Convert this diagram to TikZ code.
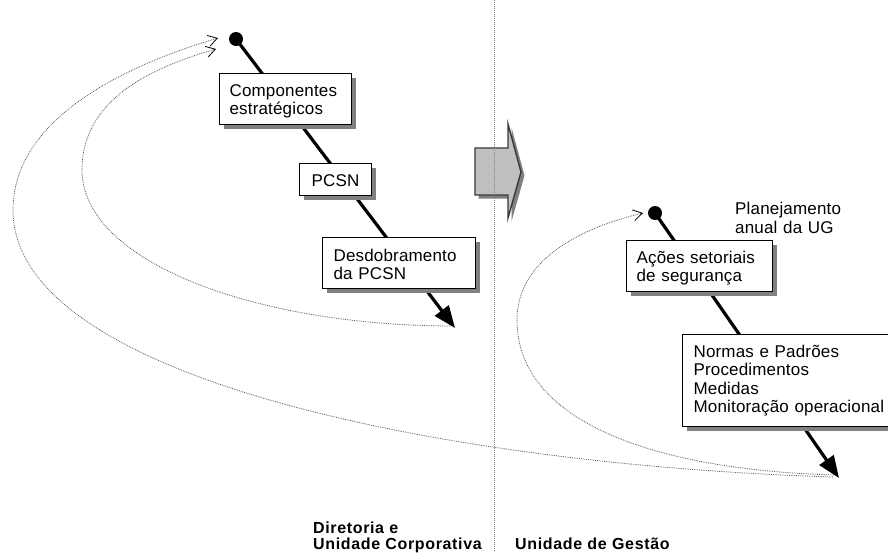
\documentclass[tikz,border=0pt]{standalone}
\usepackage{fontspec}
\setmainfont{Liberation Sans}
\usetikzlibrary{arrows.meta,shadows}
\definecolor{shadowgray}{HTML}{808080}
\definecolor{arrowfill}{HTML}{C0C0C0}
\definecolor{arrowedge}{HTML}{383838}
\definecolor{dotgray}{HTML}{5A5A5A}
\begin{document}
\begin{tikzpicture}[x=1pt,y=-1pt,
  txt/.style={font=\fontsize{17}{18.3}\selectfont\addfontfeature{LetterSpace=1}},
  box/.style={txt, draw=black, line width=1.2pt, fill=white,
    drop shadow={shadow xshift=4pt, shadow yshift=-4pt, fill=shadowgray, opacity=1},
    anchor=north west, inner ysep=0pt, align=left},
  lbl/.style={font=\fontsize{16}{16}\selectfont\bfseries\addfontfeature{LetterSpace=4},
    anchor=base west, inner sep=0pt, align=left},
  procline/.style={line width=3.2pt, black, -{Triangle[length=22pt,width=17pt]}},
  dotnode/.style={circle, fill=black, inner sep=0pt, minimum size=14pt},
  fb/.style={densely dotted, dotgray, line width=0.8pt,
    -{Straight Barb[length=9pt,width=11pt,line width=0.8pt,black]}},
  bigarrow/.style={fill=arrowfill, draw=arrowedge, line width=1.4pt,
    drop shadow={shadow xshift=3.5pt, shadow yshift=-3.5pt, fill=shadowgray, opacity=1}},
  divider/.style={densely dotted, gray, line width=1pt}]
\clip (0,0) rectangle (888,552);
\fill[white] (0,0) rectangle (888,552);

% block arrow
\draw[bigarrow] (475,148) -- (508,148) -- (508,124) -- (521,172) -- (508,218) -- (508,195) -- (475,195) -- cycle;

% divider
\coordinate (divtop) at (494,0);
\coordinate (divbot) at (494,552);
\draw[divider] (divtop) -- (divbot);

% coordinates of feedback curves
\coordinate (tipL) at (455,328);
\coordinate (tipR) at (839,478);
\coordinate (innerS) at (450,326);
\coordinate (innerE) at (216,49);
\coordinate (outerS) at (833,477);
\coordinate (outerE) at (218,38);
\coordinate (rightS) at (836,475);
\coordinate (rightE) at (643,213);

% feedback curves
\draw[fb] (innerS) .. controls (250,325) and (82,260) .. (82,170)
  .. controls (82,100) and (150,68) .. (innerE);
\draw[fb] (outerS) .. controls (450,465) and (13,380) .. (13,210)
  .. controls (13,125) and (110,70) .. (outerE);
\draw[fb] (rightS) .. controls (650,470) and (517,420) .. (517,320)
  .. controls (517,260) and (580,228) .. (rightE);

% process lines
\node[dotnode] (dotL) at (236,39) {};
\node[dotnode] (dotR) at (655,213) {};
\draw[procline] (dotL.center) -- (tipL);
\draw[procline] (dotR.center) -- (tipR);

% boxes
\node[box, inner xsep=10pt, text width=112pt, text height=23pt, text depth=28pt] (comp) at (219,73) {Componentes\\estratégicos};
\node[box, inner xsep=12pt, text width=48pt, text height=23pt, text depth=9pt] (pcsn) at (299,163) {PCSN};
\node[box, inner xsep=11pt, text width=131pt, text height=24pt, text depth=27pt] (desd) at (322,237) {Desdobramento\\da PCSN};
\node[box, inner xsep=10pt, text width=126pt, text height=23pt, text depth=28pt] (acoes) at (626,240) {Ações setoriais\\de segurança};
\node[box, inner xsep=11pt, text width=194pt, text height=23pt, text depth=69pt] (normas) at (682,334) {Normas e Padrões\\Procedimentos\\Medidas\\Monitoração operacional};

% texts
\node[txt, anchor=base west, inner sep=0pt, align=left, text width=140pt] (plan) at (735,214) {Planejamento\\[0.8pt]anual da UG};
\node[lbl, text width=180pt] (dir) at (313,533) {Diretoria e\\Unidade Corporativa};
\node[lbl, text width=170pt] (ug) at (515,549) {Unidade de Gestão};
\end{tikzpicture}
\end{document}
